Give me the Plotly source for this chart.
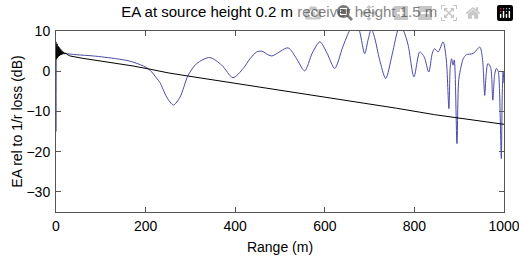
import plotly.graph_objects as go

# Blue curve: excess attenuation (dB) vs range (m)
ea_range = [0.3, 1, 2, 3, 5, 10, 20, 46, 83, 135, 165, 195, 210, 225, 232, 247, 262, 277,
            295, 314, 343, 370, 395, 418, 433, 448, 459, 481, 518, 537, 555, 572, 589, 605,
            622, 640, 656, 670, 678, 689, 697, 704, 712, 722, 736, 750, 760, 767, 776, 786,
            799, 812, 822, 832, 840, 845, 853, 864, 871, 877, 880, 883, 886, 889, 895, 899,
            904, 909, 916, 931, 946, 952, 957, 960, 964, 970, 975, 979, 983, 987, 990, 994,
            996, 998, 1000]
ea_values = [-15, 6, 4, 5.5, 4.8, 4.6, 4.4, 4.1, 3.8, 3.1, 2.5, 1.3, 0.25, -1.8, -2.8, -6.4, -8.4, -6.4,
             -1.0, 1.9, 3.4, 1.5, -1.6, 0.7, 3.1, 4.8, 5.0, 3.8, 5.8, 3.1, 0.1, 4.5, 7.3, 4.5,
             0.7, 6.0, 10.2, 12.0, 9.8, 4.4, 8.0, 10.5, 8.0, 3.0, -1.8, 4.0, 9.0, 11.5, 10.0, 6.5,
             -1.4, 4.8, 3.5, -0.2, 4.5, 5.6, 4.8, 7.3, 3.1, -9.3, 1.0, 3.1, 1.5, 2.8, -18.0, -2.0,
             1.0, 3.1, 4.1, 4.4, 6.0, 3.0, -6.0, -1.0, 1.9, 1.0, -7.2, -1.0, 0.7, 0.0, -5.0, -21.7,
             -6.0, -0.2, -3.0]

# Black curve
ref_range = [0.3, 0.8, 1.3, 1.8, 2.4, 3, 3.6, 4.3, 5, 5.8, 6.6, 7.5, 8.5, 9.6, 10.8, 12, 13.5,
             15, 17, 19, 22, 26, 31, 60, 98, 135, 172, 210, 250, 295, 360, 440, 550, 667,
             760, 845, 920, 1000]
ref_values = [7.3, 3.0, 7.0, 3.2, 6.8, 3.3, 6.5, 3.5, 6.2, 3.7, 6.0, 3.8, 5.7, 4.0, 5.4, 4.1, 5.1,
              4.2, 4.8, 4.3, 4.5, 4.1, 3.8, 3.2, 2.6, 1.95, 1.3, 0.5, -0.4, -1.2, -2.3, -3.7, -5.5, -7.5,
              -9.2, -10.8, -12.0, -13.2]

x_ticks = [0, 200, 400, 600, 800, 1000]
y_ticks = [-30, -20, -10, 0, 10]

FONT = "Liberation Sans"

fig = go.Figure()
fig.add_trace(go.Scatter(x=ea_range, y=ea_values, mode="lines",
                         line=dict(color="#4a4aa8", width=1, shape="spline", smoothing=0.8),
                         showlegend=False))
fig.add_trace(go.Scatter(x=ref_range, y=ref_values, mode="lines",
                         line=dict(color="black", width=1), showlegend=False))

axis_common = dict(showgrid=False, zeroline=False, showline=True, linecolor="#555555",
                   linewidth=1, ticks="inside", ticklen=5, tickcolor="#555555",
                   mirror="ticks", ticklabeloverflow="allow", automargin=False,
                   tickfont=dict(family=FONT, size=14, color="black"))
fig.update_xaxes(range=[0, 1000], tickvals=x_ticks, ticklabelstandoff=1,
                 title=dict(text="Range (m)", standoff=9,
                            font=dict(family=FONT, size=14, color="black")), **axis_common)
fig.update_yaxes(range=[-35, 10], tickvals=y_ticks, ticklabelstandoff=2,
                 title=dict(text="EA rel to 1/r loss (dB)", standoff=0,
                            font=dict(family=FONT, size=14, color="black")), **axis_common)
fig.update_layout(
    width=519, height=256,
    margin=dict(l=56, r=15, t=31, b=44),
    plot_bgcolor="white", paper_bgcolor="white",
    title=dict(text="EA at source height 0.2 m receiver height 1.5 m", x=0.538, xanchor="center",
               y=1, yanchor="top", pad=dict(t=6),
               font=dict(family=FONT, size=15, color="black")),
)
# remove the page's default body margin so the 519x256 figure fills the window exactly
fig.write_html("out.html",
               post_script="document.body.style.margin='0';document.body.style.overflow='hidden';")
